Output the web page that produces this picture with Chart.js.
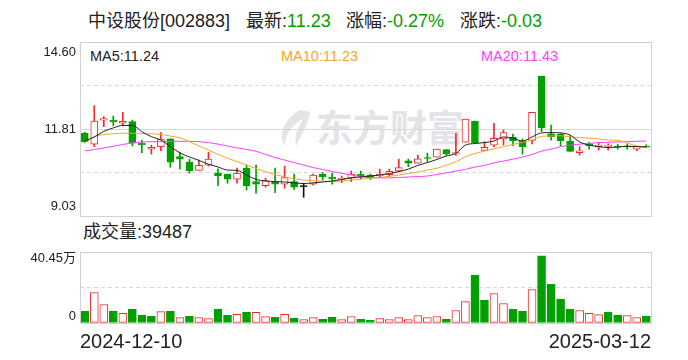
<!DOCTYPE html>
<html>
  <head>
    <meta charset="utf-8" />
    <title>中设股份 K线</title>
    <script src="https://cdn.jsdelivr.net/npm/chart.js"></script>
    <style>
      body {
        margin: 0;
        background: #fff;
        font-family: "Liberation Sans", "Noto Sans CJK SC", sans-serif;
      }
      #wrap {
        position: relative;
        width: 688px;
        height: 360px;
        overflow: hidden;
      }
      .txt {
        position: absolute;
        white-space: nowrap;
        line-height: 1;
        color: #222;
      }
      .green {
        color: #00a000;
      }
      .title {
        font-size: 18px;
        top: 12px;
      }
      .ma {
        font-size: 14.5px;
        top: 49px;
      }
      #watermark {
        position: absolute;
        left: 316px;
        top: 108px;
        font-family: "Noto Sans CJK SC", sans-serif;
        font-weight: bold;
        font-size: 37px;
        line-height: 1;
        color: #e3e3e8;
      }
      #swoosh {
        position: absolute;
        left: 274px;
        top: 108px;
      }
      canvas {
        position: absolute;
        left: 0;
      }
    </style>
  </head>
  <body>
    <div id="wrap">
      <div id="watermark">东方财富</div>
      <svg id="swoosh" width="38" height="40">
        <path d="M26 2 C 12 10, 4 24, 10 38 C 12 26, 18 16, 30 10 C 24 18, 20 28, 22 38 C 28 26, 34 16, 36 4 Z" fill="#e3e3e8" />
      </svg>

      <div class="txt title" style="left: 88px">中设股份[002883]</div>
      <div class="txt title" style="left: 246px">最新:<span class="green">11.23</span></div>
      <div class="txt title" style="left: 346px">涨幅:<span class="green">-0.27%</span></div>
      <div class="txt title" style="left: 460px">涨跌:<span class="green">-0.03</span></div>

      <div class="txt ma" style="left: 90px; color: #222">MA5:11.24</div>
      <div class="txt ma" style="left: 281px; color: #f7a52a">MA10:11.23</div>
      <div class="txt ma" style="left: 481px; color: #ff3cff">MA20:11.43</div>

      <div class="txt" style="left: 83px; top: 223px; font-size: 18px">成交量:39487</div>

      <canvas id="kline" width="688" height="226" style="top: 0"></canvas>
      <canvas id="vol" width="688" height="130" style="top: 230px"></canvas>
    </div>

    <script>
      const dates = [
        "2024-12-10", "2024-12-11", "2024-12-12", "2024-12-13", "2024-12-16",
        "2024-12-17", "2024-12-18", "2024-12-19", "2024-12-20", "2024-12-23",
        "2024-12-24", "2024-12-25", "2024-12-26", "2024-12-27", "2024-12-30",
        "2024-12-31", "2025-01-02", "2025-01-03", "2025-01-06", "2025-01-07",
        "2025-01-08", "2025-01-09", "2025-01-10", "2025-01-13", "2025-01-14",
        "2025-01-15", "2025-01-16", "2025-01-17", "2025-01-20", "2025-01-21",
        "2025-01-22", "2025-01-23", "2025-01-24", "2025-01-27", "2025-02-05",
        "2025-02-06", "2025-02-07", "2025-02-10", "2025-02-11", "2025-02-12",
        "2025-02-13", "2025-02-14", "2025-02-17", "2025-02-18", "2025-02-19",
        "2025-02-20", "2025-02-21", "2025-02-24", "2025-02-25", "2025-02-26",
        "2025-02-27", "2025-02-28", "2025-03-03", "2025-03-04", "2025-03-05",
        "2025-03-06", "2025-03-07", "2025-03-10", "2025-03-11", "2025-03-12",
      ];

      const openP = [
        11.68, 11.33, 12.10, 12.10, 12.00, 12.05, 11.36, 11.17, 11.25, 11.50,
        10.93, 10.76, 10.49, 10.66, 10.40, 10.37, 10.21, 10.56, 10.13, 10.00,
        10.13, 10.05, 10.13, 9.97, 10.05, 10.37, 10.27, 10.20, 10.25, 10.37,
        10.34, 10.31, 10.35, 10.47, 10.80, 10.72, 10.90, 10.91, 11.16, 11.01,
        11.39, 12.07, 11.13, 11.30, 11.50, 11.56, 11.43, 11.45, 13.51, 11.66,
        11.65, 11.43, 11.06, 11.33, 11.25, 11.26, 11.27, 11.28, 11.17, 11.26,
      ];
      const highP = [
        11.71, 12.56, 12.21, 12.23, 12.35, 12.10, 11.46, 11.30, 11.70, 11.50,
        11.08, 10.85, 10.82, 11.07, 10.54, 10.37, 10.56, 10.66, 10.66, 10.24,
        10.56, 10.63, 10.37, 10.08, 10.37, 10.42, 10.40, 10.31, 10.47, 10.47,
        10.37, 10.53, 10.53, 10.85, 10.85, 10.98, 11.04, 11.17, 11.16, 11.68,
        12.13, 12.07, 11.41, 12.00, 11.78, 11.65, 11.50, 12.35, 13.51, 11.94,
        11.68, 11.60, 11.25, 11.39, 11.39, 11.34, 11.33, 11.34, 11.27, 11.31,
      ];
      const lowP = [
        11.38, 11.25, 11.89, 11.92, 11.93, 11.27, 11.06, 11.01, 11.12, 10.59,
        10.53, 10.40, 10.49, 10.63, 10.00, 10.08, 10.08, 9.86, 9.76, 9.95,
        9.78, 9.92, 9.88, 9.63, 10.02, 10.18, 10.05, 10.10, 10.13, 10.21,
        10.20, 10.26, 10.29, 10.45, 10.61, 10.72, 10.77, 10.91, 10.97, 10.98,
        11.39, 11.38, 11.13, 11.25, 11.30, 11.28, 11.01, 11.34, 11.73, 11.46,
        11.28, 11.10, 10.98, 11.17, 11.14, 11.14, 11.17, 11.17, 11.12, 11.23,
      ];
      const closeP = [
        11.41, 12.07, 12.15, 12.04, 12.06, 11.36, 11.31, 11.23, 11.49, 10.75,
        10.85, 10.48, 10.65, 10.85, 10.32, 10.21, 10.40, 10.00, 10.05, 10.16,
        10.05, 10.26, 9.95, 9.97, 10.34, 10.29, 10.22, 10.24, 10.37, 10.31,
        10.24, 10.37, 10.46, 10.58, 10.72, 10.86, 10.87, 11.17, 11.01, 11.06,
        12.13, 11.38, 11.23, 11.52, 11.70, 11.43, 11.25, 12.35, 11.86, 11.57,
        11.44, 11.10, 11.12, 11.28, 11.30, 11.28, 11.23, 11.24, 11.26, 11.23,
      ];

      const ma5 = [
        11.43, 11.56, 11.74, 11.85, 11.93, 11.93, 11.73, 11.57, 11.46, 11.25,
        11.05, 10.92, 10.81, 10.69, 10.60, 10.50, 10.49, 10.34, 10.20, 10.15,
        10.13, 10.12, 10.09, 10.07, 10.09, 10.12, 10.15, 10.20, 10.25, 10.28,
        10.31, 10.34, 10.39, 10.45, 10.53, 10.65, 10.74, 10.84, 10.95, 11.03,
        11.30, 11.35, 11.38, 11.43, 11.56, 11.52, 11.43, 11.56, 11.69, 11.70,
        11.69, 11.62, 11.40, 11.30, 11.25, 11.22, 11.24, 11.26, 11.25, 11.24,
      ];
      const ma10 = [
        11.38, 11.56, 11.64, 11.66, 11.68, 11.68, 11.67, 11.66, 11.64, 11.59,
        11.53, 11.41, 11.27, 11.14, 11.00, 10.88, 10.77, 10.66, 10.55, 10.45,
        10.36, 10.28, 10.22, 10.18, 10.16, 10.14, 10.13, 10.15, 10.18, 10.21,
        10.24, 10.26, 10.30, 10.34, 10.39, 10.44, 10.50, 10.56, 10.66, 10.76,
        10.93, 11.03, 11.11, 11.18, 11.25, 11.32, 11.39, 11.46, 11.58, 11.59,
        11.60, 11.56, 11.54, 11.52, 11.50, 11.46, 11.45, 11.37, 11.27, 11.23,
      ];
      const ma20 = [
        11.11, 11.16, 11.21, 11.26, 11.32, 11.37, 11.40, 11.41, 11.41, 11.42,
        11.42, 11.42, 11.41, 11.38, 11.33, 11.27, 11.21, 11.16, 11.10, 11.00,
        10.90, 10.82, 10.74, 10.66, 10.58, 10.52, 10.45, 10.40, 10.34, 10.29,
        10.26, 10.25, 10.25, 10.26, 10.28, 10.29, 10.31, 10.36, 10.41, 10.47,
        10.52, 10.60, 10.65, 10.73, 10.79, 10.85, 10.92, 11.00, 11.11, 11.17,
        11.25, 11.30, 11.33, 11.35, 11.38, 11.39, 11.40, 11.41, 11.42, 11.43,
      ];

      // volume in 万
      const volume = [
        6.7, 17.4, 10.5, 6.7, 5.5, 7.8, 4.4, 3.8, 6.5, 6.7,
        3.1, 3.8, 3.1, 2.5, 7.8, 4.4, 5.0, 6.1, 6.1, 3.7,
        3.3, 5.0, 2.7, 1.9, 3.1, 2.1, 3.3, 1.9, 3.7, 2.1,
        1.5, 2.5, 1.9, 3.1, 1.9, 4.2, 3.1, 3.7, 2.1, 7.1,
        12.2, 27.3, 13.0, 16.8, 11.1, 7.8, 6.7, 19.1, 38.2, 22.1,
        13.6, 7.8, 7.1, 5.5, 4.8, 6.1, 4.4, 4.2, 3.1, 3.95,
      ];

      const priceTicks = [14.60, 11.81, 9.03];
      const priceGrid = [9.03, 10.42, 11.81, 13.21, 14.60];
      const volTicks = [40.45, 0];
      const volMaxLabel = "40.45万";

      const RED = "#ee2a2a";
      const GREEN = "#00a000";
      const FRAME = "#d2d2d2";

      const candleUp = closeP.map((c, i) => c > openP[i]);
      const candleFlat = closeP.map((c, i) => c === openP[i]);
      const candleColor = closeP.map((c, i) =>
        candleFlat[i] ? "#111" : candleUp[i] ? RED : GREEN
      );
      const volUp = closeP.map((c, i) =>
        i === 0 ? c >= openP[i] : c >= closeP[i - 1]
      );

      // frame round the plot area
      const frame = {
        id: "frame",
        afterDatasetsDraw(chart) {
          const a = chart.chartArea;
          const ctx = chart.ctx;
          ctx.save();
          ctx.strokeStyle = FRAME;
          ctx.lineWidth = 1;
          ctx.strokeRect(
            Math.round(a.left) + 0.5,
            Math.round(a.top) + 0.5,
            Math.round(a.right - a.left),
            Math.round(a.bottom - a.top)
          );
          ctx.restore();
        },
      };

      // y labels: top one hangs below the line, bottom one sits above it
      const edgeLabels = {
        id: "edgeLabels",
        afterDraw(chart, args, opts) {
          const ctx = chart.ctx;
          const y = chart.scales.y;
          const a = chart.chartArea;
          ctx.save();
          ctx.font = "13px 'Liberation Sans', 'Noto Sans CJK SC', sans-serif";
          ctx.fillStyle = "#222";
          ctx.textAlign = "right";
          opts.items.forEach((it) => {
            let py = y.getPixelForValue(it.value);
            if (py <= a.top + 1) {
              ctx.textBaseline = "top";
              py += opts.topPad;
            } else if (py >= a.bottom - 1) {
              ctx.textBaseline = "bottom";
              py -= opts.bottomPad;
            } else {
              ctx.textBaseline = "middle";
            }
            ctx.fillText(it.text, a.left - 4, py);
          });
          if (opts.dates) {
            ctx.font = "20px 'Liberation Sans', sans-serif";
            ctx.textBaseline = "middle";
            ctx.textAlign = "left";
            ctx.fillText(opts.dates[0], a.left, a.bottom + 19);
            ctx.textAlign = "right";
            ctx.fillText(opts.dates[1], a.right, a.bottom + 19);
          }
          ctx.restore();
        },
      };

      new Chart(document.getElementById("kline"), {
        data: {
          labels: dates,
          datasets: [
            {
              type: "line",
              data: ma5,
              borderColor: "#222",
              borderWidth: 1,
              pointRadius: 0,
              cubicInterpolationMode: "monotone",
              order: 0,
            },
            {
              type: "line",
              data: ma10,
              borderColor: "#f7a52a",
              borderWidth: 1,
              pointRadius: 0,
              cubicInterpolationMode: "monotone",
              order: 0,
            },
            {
              type: "line",
              data: ma20,
              borderColor: "#ff3cff",
              borderWidth: 1,
              pointRadius: 0,
              cubicInterpolationMode: "monotone",
              order: 0,
            },
            {
              type: "bar",
              data: openP.map((o, i) => [o, closeP[i]]),
              backgroundColor: candleColor.map((c, i) =>
                candleUp[i] ? "#fff" : c
              ),
              borderColor: candleColor,
              borderWidth: 1,
              borderSkipped: false,
              barThickness: 7,
              minBarLength: 1,
              grouped: false,
              order: 1,
            },
            {
              type: "bar",
              data: lowP.map((l, i) => [l, highP[i]]),
              backgroundColor: candleColor,
              borderWidth: 0,
              barThickness: 1,
              grouped: false,
              order: 2,
            },
          ],
        },
        options: {
          responsive: false,
          animation: false,
          events: [],
          layout: { padding: { left: 80, right: 37, top: 42, bottom: 10 } },
          scales: {
            x: { type: "category", display: false, offset: true },
            y: {
              min: 9.03,
              max: 14.6,
              afterBuildTicks: (s) => {
                s.ticks = priceGrid.map((v) => ({ value: v }));
              },
              ticks: { display: false },
              grid: {
                drawTicks: false,
                color: (c) =>
                  c.tick && (c.tick.value === 9.03 || c.tick.value === 14.6)
                    ? "rgba(0,0,0,0)"
                    : "#d8d8d8",
              },
              border: {
                display: false,
                dash: (c) =>
                  c.tick && c.tick.value === 11.81 ? [] : [4, 3],
              },
            },
          },
          plugins: {
            legend: { display: false },
            tooltip: { enabled: false },
            edgeLabels: {
              items: priceTicks.map((v) => ({ value: v, text: v.toFixed(2) })),
              topPad: 4,
              bottomPad: 3,
            },
          },
        },
        plugins: [frame, edgeLabels],
      });

      new Chart(document.getElementById("vol"), {
        type: "bar",
        data: {
          labels: dates,
          datasets: [
            {
              data: volume,
              backgroundColor: volUp.map((u) => (u ? "#fff" : GREEN)),
              borderColor: volUp.map((u) => (u ? RED : GREEN)),
              borderWidth: 1,
              borderSkipped: false,
              barThickness: 8,
            },
          ],
        },
        options: {
          responsive: false,
          animation: false,
          events: [],
          layout: { padding: { left: 80, right: 37, top: 22, bottom: 37 } },
          scales: {
            x: { type: "category", display: false, offset: true },
            y: {
              min: 0,
              max: 40.45,
              afterBuildTicks: (s) => {
                s.ticks = [0, 20.225, 40.45].map((v) => ({ value: v }));
              },
              ticks: { display: false },
              grid: {
                drawTicks: false,
                color: (c) =>
                  c.tick && c.tick.value === 20.225 ? "#d8d8d8" : "rgba(0,0,0,0)",
              },
              border: { display: false, dash: [4, 3] },
            },
          },
          plugins: {
            legend: { display: false },
            tooltip: { enabled: false },
            edgeLabels: {
              items: volTicks.map((v) => ({
                value: v,
                text: v === 0 ? "0" : volMaxLabel,
              })),
              topPad: 0,
              bottomPad: 0,
              dates: [dates[0], dates[dates.length - 1]],
            },
          },
        },
        plugins: [frame, edgeLabels],
      });
    </script>
  </body>
</html>
